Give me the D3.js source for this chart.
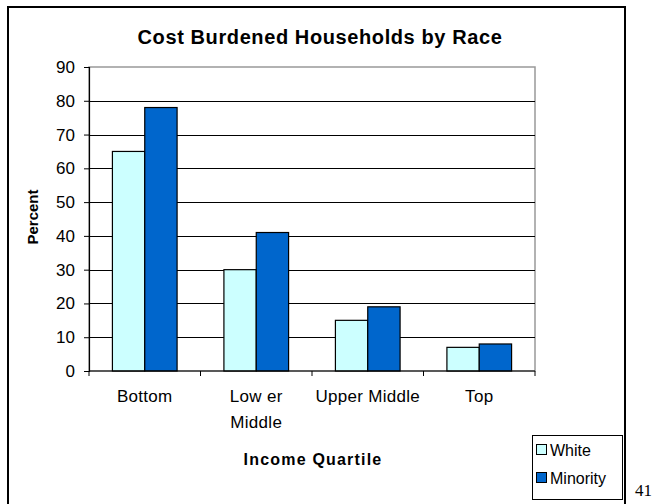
<!DOCTYPE html>
<html><head><meta charset="utf-8">
<script src="https://cdn.jsdelivr.net/npm/d3@7"></script>
<style>body{margin:0;background:#fff}svg{display:block}text{font-family:"Liberation Sans",Arial,sans-serif}</style>
</head><body><svg id="c" width="654" height="504"></svg>
<script>
const categories = [["Bottom"], ["Low er", "Middle"], ["Upper Middle"], ["Top"]];
const seriesNames = ["White", "Minority"];
const white = [65, 30, 15, 7];
const minority = [78, 41, 19, 8];
const yTicks = [0, 10, 20, 30, 40, 50, 60, 70, 80, 90];
const colors = ["#CCFFFF", "#0066CC"];

const svg = d3.select("#c");
// outer frame
svg.append("rect").attr("x", 8).attr("y", 7).attr("width", 617).attr("height", 520)
  .attr("fill", "none").attr("stroke", "#000").attr("stroke-width", 2);

const L = 89, R = 535, T = 67, B = 371;
const keys = categories.map(c => c.join(" "));
const x0 = d3.scaleBand().domain(keys).range([L, R]).paddingInner(0.42).paddingOuter(0.21);
const x1 = d3.scaleBand().domain(seriesNames).range([0, x0.bandwidth()]);
const y = d3.scaleLinear().domain([0, 90]).range([B, T]);

// plot border gray
svg.append("rect").attr("x", L).attr("y", T).attr("width", R - L).attr("height", B - T)
  .attr("fill", "none").attr("stroke", "#999").attr("stroke-width", 1.5);

// gridlines
svg.append("g").selectAll("line").data(yTicks.filter(v => v > 0 && v < 90)).join("line")
  .attr("x1", L).attr("x2", R).attr("y1", d => Math.round(y(d)) + 0.5).attr("y2", d => Math.round(y(d)) + 0.5)
  .attr("stroke", "#000").attr("stroke-width", 1);

// bars
const data = keys.map((k, i) => ({ k, vals: [white[i], minority[i]] }));
const g = svg.append("g");
data.forEach(d => {
  d.vals.forEach((v, j) => {
    g.append("rect")
      .attr("x", x0(d.k) + x1(seriesNames[j]))
      .attr("y", y(v))
      .attr("width", x1.bandwidth())
      .attr("height", y(0) - y(v))
      .attr("fill", colors[j]).attr("stroke", "#000").attr("stroke-width", 1.2);
  });
});

// y axis
const yAxis = d3.axisLeft(y).tickValues(yTicks).tickSize(5).tickPadding(9);
const ya = svg.append("g").attr("transform", `translate(${L},0)`).call(yAxis);
ya.select(".domain").attr("stroke", "#000").attr("stroke-width", 1.2);
ya.selectAll(".tick line").attr("stroke", "#000");
ya.selectAll("text").attr("font-size", 17).attr("fill", "#000").style("font-family", '"Liberation Sans",Arial,sans-serif');

// x axis line and ticks at band boundaries
svg.append("line").attr("x1", L).attr("x2", R).attr("y1", B).attr("y2", B).attr("stroke", "#000").attr("stroke-width", 1.2);
const step = x0.step();
const bounds = keys.map(k => x0(k) - step * x0.paddingInner() / 2).concat([R]);
svg.append("g").selectAll("line").data(bounds).join("line")
  .attr("x1", d => d).attr("x2", d => d).attr("y1", B).attr("y2", B + 5).attr("stroke", "#000");

// x labels
categories.forEach((c, i) => {
  const cx = x0(keys[i]) + x0.bandwidth() / 2;
  c.forEach((line, li) => {
    svg.append("text").attr("x", cx).attr("y", 402 + li * 26).attr("text-anchor", "middle")
      .attr("font-size", 17).attr("letter-spacing", 0.3).text(line);
  });
});

// title
svg.append("text").attr("x", 320).attr("y", 44).attr("text-anchor", "middle")
  .attr("font-size", 20).attr("font-weight", "bold").attr("letter-spacing", 0.6)
  .text("Cost Burdened Households by Race");
// y title
svg.append("text").attr("transform", "translate(38,217) rotate(-90)").attr("text-anchor", "middle")
  .attr("font-size", 15).attr("font-weight", "bold").text("Percent");
// x title
svg.append("text").attr("x", 313).attr("y", 465).attr("text-anchor", "middle")
  .attr("font-size", 16).attr("font-weight", "bold").attr("letter-spacing", 1.2).text("Income Quartile");

// legend
const lg = svg.append("g");
lg.append("rect").attr("x", 532.5).attr("y", 435.5).attr("width", 90).attr("height", 64)
  .attr("fill", "#fff").attr("stroke", "#000").attr("stroke-width", 1);
seriesNames.forEach((s, i) => {
  const yy = 450 + i * 28;
  lg.append("rect").attr("x", 536.5).attr("y", yy - 5.5).attr("width", 10).attr("height", 10)
    .attr("fill", colors[i]).attr("stroke", "#000").attr("stroke-width", 1);
  lg.append("text").attr("x", 550).attr("y", yy + 6).attr("font-size", 16).text(s);
});

// page number
svg.append("text").attr("x", 635).attr("y", 496).attr("font-size", 17)
  .style("font-family", '"Liberation Serif","Times New Roman",serif').text("41");
</script></body></html>
